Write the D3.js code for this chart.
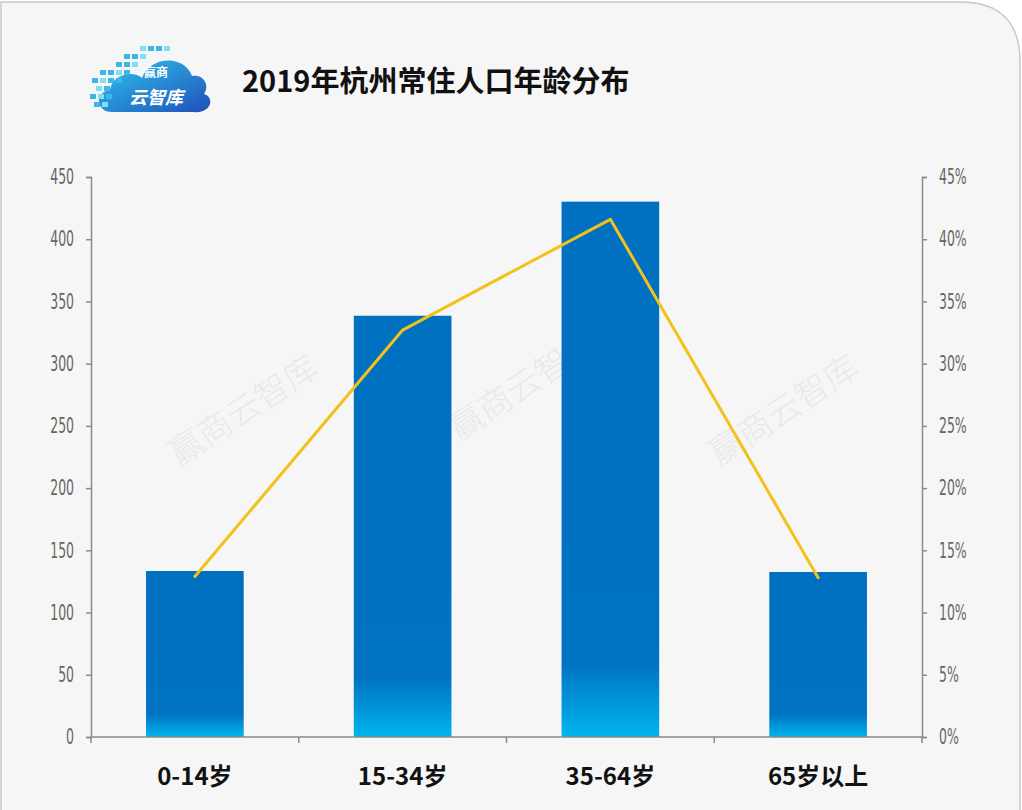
<!DOCTYPE html>
<html>
<head>
<meta charset="utf-8">
<script src="https://cdn.jsdelivr.net/npm/d3@7"></script>
<style>
  body { margin: 0; background: #fff; }
  svg { display: block; }
</style>
</head>
<body>
<svg id="chart"></svg>
<script>
const categories = ['0-14岁', '15-34岁', '35-64岁', '65岁以上'];
const population = [133.4, 338.5, 430.2, 132.6];   // 万人, left axis
const share = [12.9, 32.7, 41.6, 12.8];            // %, right axis
const leftTicks = [0, 50, 100, 150, 200, 250, 300, 350, 400, 450];
const rightTicks = [0, 5, 10, 15, 20, 25, 30, 35, 40, 45];

const width = 1022, height = 810;
const plotLeft = 91, plotRight = 922, plotTop = 177, plotBottom = 737;

const svg = d3.select('#chart').attr('width', width).attr('height', height);

const defs = svg.append('defs');
const grad = defs.append('linearGradient')
  .attr('id', 'barGrad').attr('x1', 0).attr('y1', 0).attr('x2', 0).attr('y2', 1);
grad.append('stop').attr('offset', '0%').attr('stop-color', '#0070c0');
grad.append('stop').attr('offset', '86%').attr('stop-color', '#0072c2');
grad.append('stop').attr('offset', '100%').attr('stop-color', '#00b4ee');

const cloudGrad = defs.append('linearGradient')
  .attr('id', 'cloudGrad').attr('x1', 0).attr('y1', 0).attr('x2', 1).attr('y2', 1);
cloudGrad.append('stop').attr('offset', '0%').attr('stop-color', '#2fc6f0');
cloudGrad.append('stop').attr('offset', '100%').attr('stop-color', '#1f4fb8');

// card background
svg.append('path')
  .attr('d', `M1,${height} L1,2 L960,2 Q1020,2 1020,62 L1020,${height}`)
  .attr('fill', '#f6f6f6').attr('stroke', '#c8c8c8').attr('stroke-width', 1.5);

// logo
const logo = svg.append('g').attr('transform', 'translate(90,44)');
logo.append('path')
  .attr('d', 'M22,68 C6,68 4,48 20,46 C22,30 44,26 52,34 C60,12 94,10 102,32 C114,30 120,42 114,50 C126,54 120,70 104,68 Z')
  .attr('fill', 'url(#cloudGrad)');
const pixels = [[50,2],[58,2],[66,2],[74,2],[34,10],[42,10],[50,10],[26,18],[34,18],[42,18],[10,26],[18,26],[26,26],[34,26],
  [2,34],[10,34],[18,34],[26,34],[6,42],[14,42],[0,50],[8,50],[16,50],[4,58],[12,58]];
logo.selectAll('rect.px').data(pixels).enter().append('rect')
  .attr('x', d => d[0]).attr('y', d => d[1]).attr('width', 6).attr('height', 5)
  .attr('fill', (d, i) => i % 3 === 0 ? '#7fe0f5' : '#3bb8e8');
logo.append('text').attr('x', 66).attr('y', 33).attr('text-anchor', 'middle')
  .attr('font-family', 'Noto Sans CJK SC').attr('font-size', 12).attr('font-weight', 700)
  .attr('fill', '#fff').text('赢商');
logo.append('text').attr('x', 66).attr('y', 60).attr('text-anchor', 'middle')
  .attr('font-family', 'Noto Sans CJK SC').attr('font-size', 18).attr('font-style', 'italic')
  .attr('font-weight', 700).attr('fill', '#fff').text('云智库');

// title
svg.append('text').attr('x', 242).attr('y', 92)
  .attr('font-family', 'Noto Sans CJK SC').attr('font-size', 29).attr('font-weight', 700)
  .attr('fill', '#111').text('2019年杭州常住人口年龄分布');

// watermarks
[[250, 420], [530, 395], [790, 420]].forEach(p => {
  svg.append('text').attr('transform', `translate(${p[0]},${p[1]}) rotate(-33)`)
    .attr('text-anchor', 'middle').attr('font-family', 'Noto Sans CJK SC').attr('font-weight', 300)
    .attr('font-size', 34).attr('fill', '#000').attr('opacity', 0.05).text('赢商云智库');
});

const x = d3.scaleBand().domain(categories).range([plotLeft, plotRight]).paddingInner(0.53).paddingOuter(0.265);
const xb = d3.scaleBand().domain(categories).range([plotLeft, plotRight]);
const y = d3.scaleLinear().domain([0, 450]).range([plotBottom, plotTop]);
const y2 = d3.scaleLinear().domain([0, 45]).range([plotBottom, plotTop]);

// bars
svg.selectAll('rect.bar').data(population).enter().append('rect')
  .attr('class', 'bar')
  .attr('x', (d, i) => x(categories[i]))
  .attr('y', d => y(d))
  .attr('width', x.bandwidth())
  .attr('height', d => plotBottom - y(d))
  .attr('fill', 'url(#barGrad)');

// line
const line = d3.line()
  .x((d, i) => xb(categories[i]) + xb.bandwidth() / 2)
  .y(d => y2(d));
svg.append('path').datum(share)
  .attr('d', line).attr('fill', 'none')
  .attr('stroke', '#f2c21b').attr('stroke-width', 3)
  .attr('stroke-linejoin', 'round').attr('stroke-linecap', 'round');

const tickFont = '"DejaVu Sans Condensed", "DejaVu Sans"';
const sx = 0.66;

// left axis
const gl = svg.append('g').attr('transform', `translate(${plotLeft},0)`)
  .call(d3.axisLeft(y).tickValues(leftTicks).tickSize(5).tickPadding(12));
// right axis
const gr = svg.append('g').attr('transform', `translate(${plotRight},0)`)
  .call(d3.axisRight(y2).tickValues(rightTicks).tickSize(5).tickPadding(12).tickFormat(d => d + '%'));
[gl, gr].forEach(g => {
  g.select('.domain').attr('stroke', '#8a8a8a').attr('stroke-width', 1.5);
  g.selectAll('.tick line').attr('stroke', '#8a8a8a').attr('stroke-width', 1.5);
  g.selectAll('.tick text').attr('fill', '#666').attr('font-family', tickFont)
    .attr('font-size', 21).attr('font-weight', 300)
    .attr('transform', `scale(${sx},1)`);
});
gl.selectAll('.tick text').attr('x', -17 / sx);
gr.selectAll('.tick text').attr('x', 17 / sx);

// bottom axis
const boundaries = categories.map(c => xb(c)).concat([plotRight]);
const gb = svg.append('g');
gb.append('line').attr('x1', plotLeft).attr('x2', plotRight).attr('y1', plotBottom).attr('y2', plotBottom)
  .attr('stroke', '#8a8a8a').attr('stroke-width', 1.5);
gb.selectAll('line.tk').data(boundaries).enter().append('line')
  .attr('x1', d => d).attr('x2', d => d).attr('y1', plotBottom).attr('y2', plotBottom + 6)
  .attr('stroke', '#8a8a8a').attr('stroke-width', 1.5);
gb.selectAll('text.cat').data(categories).enter().append('text')
  .attr('class', 'cat')
  .attr('x', d => xb(d) + xb.bandwidth() / 2).attr('y', 785)
  .attr('text-anchor', 'middle').attr('font-family', 'Noto Sans CJK SC')
  .attr('font-size', 24).attr('font-weight', 700).attr('fill', '#111').text(d => d);
</script>
</body>
</html>
